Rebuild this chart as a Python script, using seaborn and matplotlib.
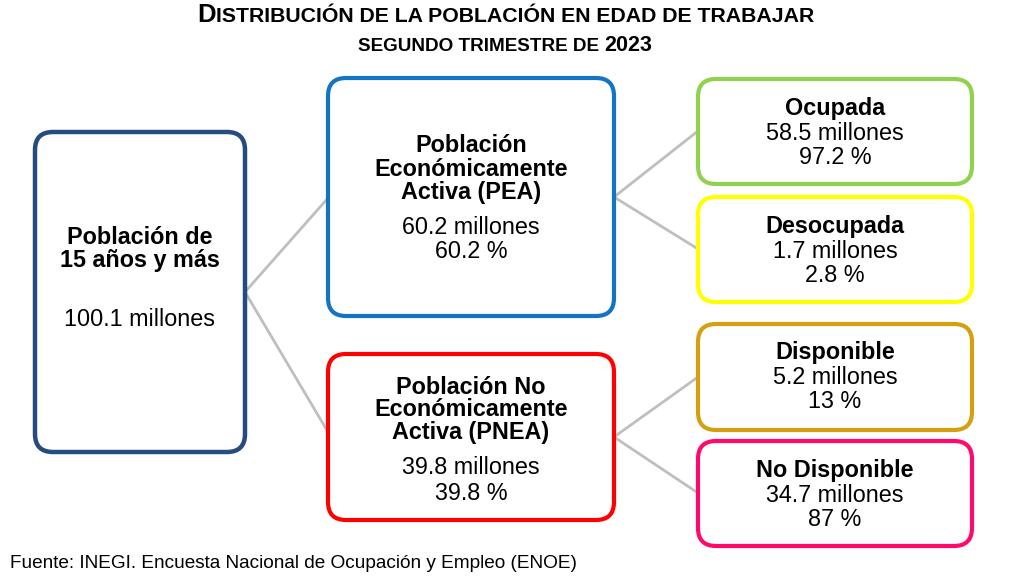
import matplotlib.pyplot as plt
import seaborn as sns
from matplotlib.patches import FancyBboxPatch

# Data
total_label = "Población de\n15 años y más"
total_value = 100.1

group_labels = ["Población\nEconómicamente\nActiva (PEA)", "Población No\nEconómicamente\nActiva (PNEA)"]
group_values = [60.2, 39.8]
group_pcts = [60.2, 39.8]

sub_labels = ["Ocupada", "Desocupada", "Disponible", "No Disponible"]
sub_values = [58.5, 1.7, 5.2, 34.7]
sub_pcts = [97.2, 2.8, 13, 87]

# Styles / layout (pixel coordinates)
total_color = "#264B7E"
group_colors = ["#1474C4", "#FF0000"]
sub_colors = ["#92D050", "#FFFF00", "#D4A012", "#FF0A6C"]
line_color = "#BFBFBF"

total_box = (35, 132, 210, 320)
group_boxes = [(328, 78, 286, 238), (328, 354, 286, 166)]
sub_boxes = [(698, 79, 274, 105), (698, 197, 274, 105), (698, 324, 274, 106), (698, 441, 274, 105)]

sns.set_theme(style="white")
plt.rcParams["font.family"] = ["Liberation Sans", "DejaVu Sans"]
plt.rcParams["text.color"] = "black"

fig = plt.figure(figsize=(10.12, 5.76), dpi=100)
ax = fig.add_axes([0, 0, 1, 1])
ax.set_xlim(0, 1012)
ax.set_ylim(576, 0)
ax.axis("off")

FS = 16.8


def box(rect, color, lw=3.0):
    x, y, w, h = rect
    ax.add_patch(FancyBboxPatch((x, y), w, h, boxstyle="round,pad=0,rounding_size=18",
                                fc="white", ec=color, lw=lw, zorder=3))


def connect(p, kids):
    for k in kids:
        ax.plot([p[0], k[0]], [p[1], k[1]], color=line_color, lw=2, zorder=1,
                solid_capstyle="butt")


# connectors
lx, ly, lw_, lh = total_box
root = (lx + lw_, 292)
connect(root, [(g[0], y) for g, y in zip(group_boxes, [198, 432])])
connect((group_boxes[0][0] + group_boxes[0][2], 197), [(698, 131), (698, 249)])
connect((group_boxes[1][0] + group_boxes[1][2], 437), [(698, 377), (698, 493)])

# total box
box(total_box, total_color, 3.2)
cx = lx + lw_ / 2
ax.text(cx, 249, total_label, ha="center", va="center", fontsize=FS, fontweight="bold",
        linespacing=1.0, zorder=4)
ax.text(cx, 320, f"{total_value:g} millones", ha="center", va="center", fontsize=FS, zorder=4)

# group boxes
group_text_y = [(169, 228, 251), (410, 468, 493)]
for rect, col, lab, val, pct, ty in zip(group_boxes, group_colors, group_labels,
                                          group_values, group_pcts, group_text_y):
    box(rect, col)
    gx = rect[0] + rect[2] / 2
    ax.text(gx, ty[0], lab, ha="center", va="center", fontsize=FS, fontweight="bold",
            linespacing=1.0, zorder=4)
    ax.text(gx, ty[1], f"{val:g} millones", ha="center", va="center", fontsize=FS, zorder=4)
    ax.text(gx, ty[2], f"{pct:g} %", ha="center", va="center", fontsize=FS, zorder=4)

# sub boxes
for rect, col, lab, val, pct in zip(sub_boxes, sub_colors, sub_labels, sub_values, sub_pcts):
    box(rect, col)
    sx = rect[0] + rect[2] / 2
    top = rect[1]
    ax.text(sx, top + 29, lab, ha="center", va="center", fontsize=FS, fontweight="bold", zorder=4)
    ax.text(sx, top + 54, f"{val:g} millones", ha="center", va="center", fontsize=FS, zorder=4)
    ax.text(sx, top + 78, f"{pct:g} %", ha="center", va="center", fontsize=FS, zorder=4)


def smallcaps(parts, y, center):
    renderer = fig.canvas.get_renderer()
    texts = [ax.text(0, y, s, fontsize=fs, fontweight="bold", va="baseline", ha="left")
             for s, fs in parts]
    widths = [t.get_window_extent(renderer).width for t in texts]
    x = center - sum(widths) / 2
    for t, w in zip(texts, widths):
        t.set_x(x)
        x += w


smallcaps([("D", 18.5), ("ISTRIBUCIÓN DE LA POBLACIÓN EN EDAD DE TRABAJAR", 15.3)], 22, 506)
smallcaps([("SEGUNDO TRIMESTRE DE ", 13.6), ("2023", 15.5)], 51, 505)

ax.text(10, 564, "Fuente: INEGI. Encuesta Nacional de Ocupación y Empleo (ENOE)",
        ha="left", va="center", fontsize=13.7)

fig.savefig("out.png", dpi=100)
